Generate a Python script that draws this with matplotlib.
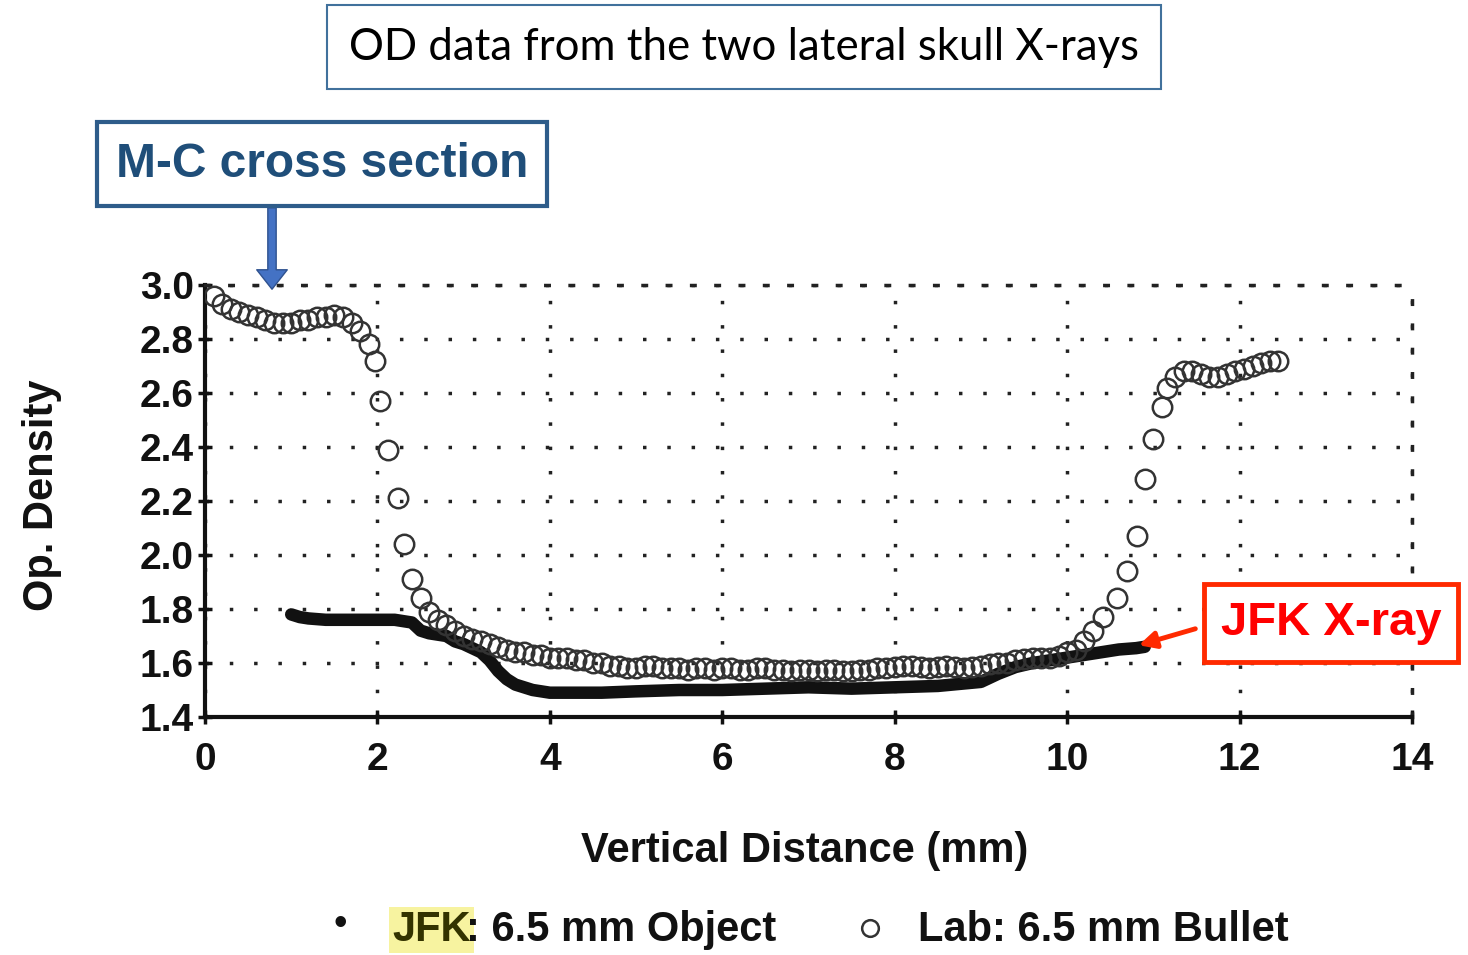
import matplotlib
matplotlib.use("Agg")
from matplotlib import pyplot as plt
from matplotlib.lines import Line2D

# lab bullet (open circles)
lab_x = [0.1, 0.2, 0.3, 0.4, 0.5, 0.6, 0.7, 0.8, 0.9, 1.0, 1.1, 1.2, 1.3, 1.4, 1.5, 1.6, 1.7,
         1.8, 1.9, 1.97, 2.03, 2.12, 2.24, 2.31, 2.4, 2.5, 2.6, 2.7, 2.8,
         2.9, 3.0, 3.1, 3.2, 3.3, 3.4, 3.5, 3.6, 3.7, 3.8, 3.9, 4.0, 4.1, 4.2, 4.3, 4.4,
         4.5, 4.6, 4.7, 4.8, 4.9, 5.0, 5.1, 5.2, 5.3, 5.4, 5.5, 5.6, 5.7, 5.8, 5.9, 6.0,
         6.1, 6.2, 6.3, 6.4, 6.5, 6.6, 6.7, 6.8, 6.9, 7.0, 7.1, 7.2, 7.3, 7.4, 7.5, 7.6,
         7.7, 7.8, 7.9, 8.0, 8.1, 8.2, 8.3, 8.4, 8.5, 8.6, 8.7, 8.8, 8.9, 9.0, 9.1, 9.2,
         9.3, 9.4, 9.5, 9.6, 9.7, 9.8, 9.9, 10.0, 10.1, 10.2, 10.3, 10.42, 10.58, 10.7,
         10.81, 10.9, 11.0, 11.1, 11.16, 11.25, 11.35, 11.45, 11.55, 11.65, 11.75, 11.85,
         11.95, 12.05, 12.15, 12.25, 12.35, 12.45]
lab_y = [2.96, 2.93, 2.91, 2.90, 2.89, 2.88, 2.87, 2.86, 2.86, 2.86, 2.87, 2.87, 2.88, 2.88, 2.89, 2.88, 2.86,
         2.83, 2.78, 2.72, 2.57, 2.39, 2.21, 2.04, 1.91, 1.84, 1.79, 1.76, 1.74,
         1.72, 1.70, 1.69, 1.68, 1.67, 1.66, 1.65, 1.64, 1.64, 1.63, 1.63, 1.62, 1.62, 1.62, 1.61, 1.61,
         1.60, 1.60, 1.59, 1.59, 1.58, 1.58, 1.59, 1.59, 1.58, 1.58, 1.58, 1.575, 1.58, 1.58, 1.575, 1.58,
         1.58, 1.575, 1.575, 1.58, 1.58, 1.575, 1.575, 1.57, 1.575, 1.575, 1.57, 1.575, 1.575, 1.57, 1.57, 1.575,
         1.575, 1.58, 1.58, 1.585, 1.59, 1.59, 1.585, 1.58, 1.585, 1.59, 1.585, 1.58, 1.585, 1.59, 1.595, 1.60,
         1.60, 1.61, 1.615, 1.62, 1.62, 1.62, 1.625, 1.64, 1.65, 1.68, 1.72, 1.77, 1.84, 1.94,
         2.07, 2.28, 2.43, 2.55, 2.62, 2.66, 2.68, 2.68, 2.67, 2.66, 2.66, 2.67,
         2.68, 2.69, 2.70, 2.71, 2.72, 2.72]

# JFK object (solid dots, dense)
jfk_x = [1.0, 1.1, 1.2, 1.4, 1.6, 1.8, 2.0, 2.2, 2.4, 2.5, 2.6, 2.8, 2.9, 3.0, 3.2, 3.3, 3.4,
         3.5, 3.6, 3.8, 4.0, 4.3, 4.6, 5.0, 5.5, 6.0, 6.5, 7.0, 7.5, 8.0, 8.5, 9.0, 9.2,
         9.4, 9.6, 9.8, 10.0, 10.2, 10.4, 10.6, 10.8, 10.9]
jfk_y = [1.78, 1.77, 1.765, 1.76, 1.76, 1.76, 1.76, 1.76, 1.75, 1.72, 1.71, 1.70, 1.68, 1.67, 1.64, 1.61, 1.57,
         1.54, 1.52, 1.50, 1.49, 1.49, 1.49, 1.495, 1.50, 1.50, 1.505, 1.51, 1.505, 1.51, 1.515, 1.53, 1.56,
         1.585, 1.60, 1.61, 1.62, 1.63, 1.64, 1.65, 1.655, 1.66]

x_ticks = [0, 2, 4, 6, 8, 10, 12, 14]
y_ticks = [1.4, 1.6, 1.8, 2.0, 2.2, 2.4, 2.6, 2.8, 3.0]

W, H = 1468, 955
bold = ['Liberation Sans', 'DejaVu Sans']

fig = plt.figure(figsize=(W / 100, H / 100), dpi=100)
ax = fig.add_axes([205 / W, 1 - 717 / H, (1412 - 205) / W, (717 - 285) / H])

ax.plot(jfk_x, jfk_y, color='#111111', lw=9, solid_capstyle='round', solid_joinstyle='round', zorder=3)
ax.plot(lab_x, lab_y, ls='none', marker='o', ms=14, mfc='none', mec='#333333', mew=1.8, zorder=4)

ax.set_xlim(0, 14)
ax.set_ylim(1.4, 3.0)
ax.set_xticks(x_ticks)
ax.set_yticks(y_ticks)
ax.set_xticklabels([str(t) for t in x_ticks])
ax.set_yticklabels(['%.1f' % t for t in y_ticks])
for lab in ax.get_xticklabels() + ax.get_yticklabels():
    lab.set_family(bold)
    lab.set_fontweight('bold')
    lab.set_fontsize(28)
    lab.set_color('#111111')
ax.tick_params(axis='both', direction='inout', length=10, width=2.5, color='#111111')
ax.tick_params(axis='x', pad=13)
ax.tick_params(axis='y', pad=3)

ax.grid(True, color='#222222', lw=2.5, ls=(0, (1, 6)))
for s in ['left', 'bottom']:
    ax.spines[s].set_linewidth(3)
    ax.spines[s].set_color('#111111')
for s in ['top', 'right']:
    ax.spines[s].set_linewidth(2.5)
    ax.spines[s].set_linestyle((0, (1, 6)))
    ax.spines[s].set_color('#222222')

fig.text(805 / W, 1 - 851 / H, 'Vertical Distance (mm)', family=bold, fontweight='bold',
         fontsize=30, ha='center', va='center', color='#111111')
fig.text(42 / W, 1 - 495 / H, 'Op. Density', family=bold, fontweight='bold',
         fontsize=30, ha='center', va='center', rotation=90, color='#111111')

# legend row
fig.text(340 / W, 1 - 925 / H, '\u2022', family=bold, fontsize=28, ha='center', va='center', color='#111111')
fig.text(392 / W, 1 - 930 / H, 'JFK', family=bold, fontweight='bold', fontsize=30, ha='left',
         va='center', color='#333300',
         bbox=dict(boxstyle='square,pad=0.08', fc='#F7F3A0', ec='none'))
fig.text(466 / W, 1 - 930 / H, ': 6.5 mm Object', family=bold, fontweight='bold', fontsize=30,
         ha='left', va='center', color='#111111')
fig.add_artist(Line2D([870 / W], [1 - 928 / H], transform=fig.transFigure, marker='o', ms=12,
                      mfc='none', mec='#333333', mew=1.8, ls='none'))
fig.text(918 / W, 1 - 930 / H, 'Lab: 6.5 mm Bullet', family=bold, fontweight='bold', fontsize=30,
         ha='left', va='center', color='#111111')

# title box
fig.text(744 / W, 1 - 47 / H, 'OD data from the two lateral skull X-rays', family=['Lato', 'DejaVu Sans'],
         fontsize=31.5, ha='center', va='center', color='black',
         bbox=dict(boxstyle='square,pad=0.5', fc='white', ec='#41719C', lw=1.5))

# M-C annotation
fig.text(322 / W, 1 - 164 / H, 'M-C cross section', family=bold, fontweight='bold', fontsize=34.5,
         ha='center', va='center', color='#1F4E79',
         bbox=dict(boxstyle='square,pad=0.4', fc='white', ec='#2E5C8A', lw=3))
ax.annotate('', xy=(272, H - 292), xycoords='figure pixels', xytext=(272, H - 205),
            textcoords='figure pixels',
            arrowprops=dict(arrowstyle='simple,head_width=2.2,head_length=1.4,tail_width=0.6',
                            fc='#4472C4', ec='#2F528F', lw=1))

# JFK annotation
fig.text(1331 / W, 1 - 623 / H, 'JFK X-ray', family=bold, fontweight='bold', fontsize=34,
         ha='center', va='center', color='#FF0000',
         bbox=dict(boxstyle='square,pad=0.36', fc='white', ec='#FF2A00', lw=3.5))
ax.annotate('', xy=(1136, H - 646), xycoords='figure pixels', xytext=(1198, H - 628),
            textcoords='figure pixels',
            arrowprops=dict(arrowstyle='-|>,head_width=0.5,head_length=1.0', color='#FF2A00', lw=3.5))

fig.savefig('out.png', dpi=100)
